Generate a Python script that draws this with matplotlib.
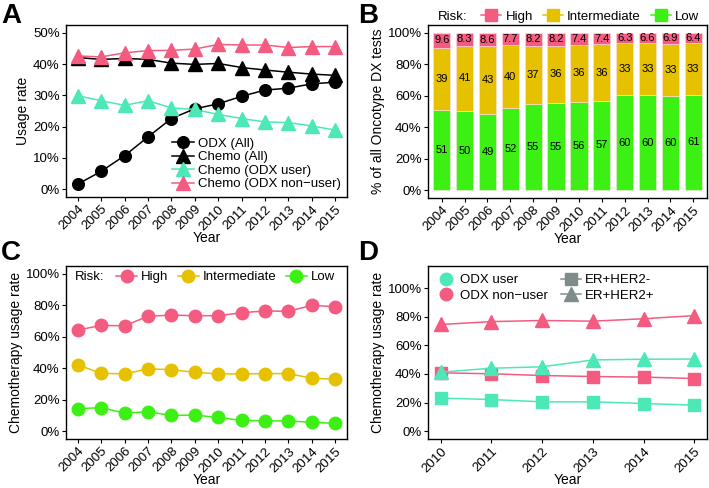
import numpy as np
import matplotlib.pyplot as plt
from matplotlib.lines import Line2D
from matplotlib.ticker import FuncFormatter

plt.rcParams['font.family'] = ['Liberation Sans', 'DejaVu Sans']

PINK = '#F45B80'
GOLD = '#E5C100'
GREEN = '#3CF014'
TEAL = '#4DE8B8'
GRAY = '#7F8C8A'

# ---- data ----
years = list(range(2004, 2016))

# Panel A: usage rate (%)
odx_all = [1.6, 5.7, 10.7, 16.7, 22.6, 25.7, 27.3, 29.7, 31.7, 32.3, 33.7, 34.2]
chemo_all = [42.1, 41.5, 41.8, 41.5, 40.3, 39.9, 40.2, 38.9, 38.1, 37.4, 36.8, 36.4]
chemo_odx_user = [29.9, 28.3, 26.8, 28.3, 26.0, 25.5, 23.9, 22.6, 21.5, 21.3, 20.2, 18.9]
chemo_odx_nonuser = [42.6, 42.3, 43.6, 44.3, 44.4, 44.8, 46.3, 46.1, 46.1, 45.3, 45.6, 45.6]

# Panel B: risk distribution of Oncotype DX tests (%)
risk_low = [51, 50, 49, 52, 55, 55, 56, 57, 60, 60, 60, 61]
risk_int = [39, 41, 43, 40, 37, 36, 36, 36, 33, 33, 33, 33]
risk_high = [9.6, 8.3, 8.6, 7.7, 8.2, 8.2, 7.4, 7.4, 6.3, 6.6, 6.9, 6.4]

# Panel C: chemo usage rate by risk (%)
chemo_high = [64.3, 67.2, 67.0, 73.0, 73.8, 73.4, 73.4, 75.3, 76.4, 76.2, 80.0, 79.1]
chemo_int = [42.1, 36.8, 36.4, 39.6, 39.1, 37.4, 36.4, 36.4, 36.6, 36.6, 33.6, 33.0]
chemo_low = [14.3, 14.9, 11.5, 12.3, 10.0, 10.2, 8.7, 6.8, 6.6, 6.4, 5.7, 4.9]

# Panel D: chemo usage rate by ODX use and subtype (%)
years_d = list(range(2010, 2016))
user_her2neg = [23.1, 22.1, 20.5, 20.5, 19.3, 18.2]
nonuser_her2neg = [40.8, 40.1, 38.9, 38.2, 37.8, 36.8]
user_her2pos = [41.2, 44.0, 45.0, 49.8, 50.3, 50.4]
nonuser_her2pos = [74.6, 76.6, 77.4, 76.9, 78.6, 80.8]

pct = FuncFormatter(lambda v, p: f"{v:.0f}%")
FS_TICK = 9.5
FS_LAB = 10
FS_LEG = 9.5

fig = plt.figure(figsize=(7.09, 4.88), dpi=100)
W, H = 709, 488


def add_ax(l, t, r, b):
    return fig.add_axes([l / W, 1 - b / H, (r - l) / W, (b - t) / H])


def style(ax):
    for s in ax.spines.values():
        s.set_linewidth(1.0)
        s.set_color('black')
    ax.tick_params(direction='out', length=3, width=0.8, labelsize=FS_TICK,
                   colors='black', pad=1.5)
    ax.yaxis.set_major_formatter(pct)
    ax.set_xlabel('Year', fontsize=FS_LAB, labelpad=-1.5)
    for lab in ax.get_xticklabels():
        lab.set_rotation(45)
        lab.set_ha('right')
        lab.set_rotation_mode('anchor')


# ---- Panel A ----
axA = add_ax(66, 25, 347, 197)
axA.plot(years, odx_all, '-o', color='black', lw=1.1, ms=8.4, label='ODX (All)')
axA.plot(years, chemo_all, '-^', color='black', lw=1.1, ms=9.5, label='Chemo (All)')
axA.plot(years, chemo_odx_user, '-^', color=TEAL, lw=1.1, ms=9.5, label='Chemo (ODX user)')
axA.plot(years, chemo_odx_nonuser, '-^', color=PINK, lw=1.1, ms=9.5,
         label='Chemo (ODX non\u2212user)')
axA.set_xlim(2003.5, 2015.5)
axA.set_ylim(-2.5, 52.5)
axA.set_xticks(years)
axA.set_yticks(range(0, 51, 10))
axA.set_ylabel('Usage rate', fontsize=FS_LAB, labelpad=2)
style(axA)
axA.legend(loc='lower right', frameon=False, fontsize=FS_LEG, handlelength=1.6,
           handletextpad=0.3, labelspacing=0.1, borderaxespad=0.1,
           bbox_to_anchor=(1.0, 0.0))

# ---- Panel B ----
axB = add_ax(428, 25, 707, 198)
low = np.array(risk_low, float)
mid = np.array(risk_int, float)
high = np.array(risk_high, float)
tot = low + mid + high
lowp, midp, highp = low / tot * 100, mid / tot * 100, high / tot * 100
bw = 0.75
axB.bar(years, lowp, width=bw, color=GREEN, edgecolor='#FFE0E8', lw=0.4)
axB.bar(years, midp, bottom=lowp, width=bw, color=GOLD, edgecolor='#FFE0E8', lw=0.4)
axB.bar(years, highp, bottom=lowp + midp, width=bw, color=PINK, edgecolor='#FFE0E8', lw=0.4)
for i, y in enumerate(years):
    axB.text(y, lowp[i] / 2, f"{risk_low[i]}", ha='center', va='center', fontsize=8)
    axB.text(y, lowp[i] + midp[i] / 2, f"{risk_int[i]}", ha='center', va='center',
             fontsize=8)
    axB.text(y, lowp[i] + midp[i] + highp[i] / 2, f"{risk_high[i]}", ha='center',
             va='center', fontsize=8)
axB.set_xlim(2003.4, 2015.6)
axB.set_ylim(-5, 105)
axB.set_xticks(years)
axB.set_yticks(range(0, 101, 20))
axB.set_ylabel('% of all Oncotype DX tests', fontsize=FS_LAB, labelpad=2)
style(axB)
fig.text(438 / W, 1 - 17 / H, 'Risk:', fontsize=FS_LEG, va='center', ha='left')
hB = [Line2D([], [], color=c, marker='s', ms=8, lw=1.1) for c in (PINK, GOLD, GREEN)]
fig.legend(hB, ['High', 'Intermediate', 'Low'], ncol=3, frameon=False, fontsize=FS_LEG,
           loc='center left', bbox_to_anchor=(481 / W, 1 - 17 / H),
           handlelength=1.55, handletextpad=0.3, columnspacing=0.75, borderaxespad=0,
           borderpad=0)

# ---- Panel C ----
axC = add_ax(66, 266, 347, 439)
axC.plot(years, chemo_high, '-o', color=PINK, lw=1.1, ms=9, label='High')
axC.plot(years, chemo_int, '-o', color=GOLD, lw=1.1, ms=9, label='Intermediate')
axC.plot(years, chemo_low, '-o', color=GREEN, lw=1.1, ms=9, label='Low')
axC.set_xlim(2003.5, 2015.5)
axC.set_ylim(-5, 105)
axC.set_xticks(years)
axC.set_yticks(range(0, 101, 20))
axC.set_ylabel('Chemotherapy usage rate', fontsize=FS_LAB, labelpad=2)
style(axC)
fig.text(75 / W, 1 - 277 / H, 'Risk:', fontsize=FS_LEG, va='center', ha='left')
fig.legend(*axC.get_legend_handles_labels(), ncol=3, frameon=False, fontsize=FS_LEG,
           loc='center left', bbox_to_anchor=(116 / W, 1 - 277 / H),
           handlelength=1.6, handletextpad=0.3, columnspacing=0.7, borderaxespad=0,
           borderpad=0)

# ---- Panel D ----
axD = add_ax(428, 266, 707, 439)
axD.plot(years_d, user_her2neg, '-s', color=TEAL, lw=1.1, ms=8.2)
axD.plot(years_d, nonuser_her2neg, '-s', color=PINK, lw=1.1, ms=8.2)
axD.plot(years_d, user_her2pos, '-^', color=TEAL, lw=1.1, ms=10)
axD.plot(years_d, nonuser_her2pos, '-^', color=PINK, lw=1.1, ms=10)
axD.set_xlim(2009.75, 2015.25)
axD.set_ylim(-5.5, 115.5)
axD.set_xticks(years_d)
axD.set_yticks(range(0, 101, 20))
axD.set_ylabel('Chemotherapy usage rate', fontsize=FS_LAB, labelpad=2)
style(axD)
hD = [Line2D([], [], color=TEAL, marker='o', ms=9, lw=0),
      Line2D([], [], color=PINK, marker='o', ms=9, lw=0),
      Line2D([], [], color=GRAY, marker='s', ms=8.2, lw=1.1),
      Line2D([], [], color=GRAY, marker='^', ms=10, lw=1.1)]
axD.legend(hD, ['ODX user', 'ODX non\u2212user', 'ER+HER2-', 'ER+HER2+'], ncol=2,
           frameon=False, fontsize=FS_LEG, loc='upper left', bbox_to_anchor=(0.0, 1.0),
           handlelength=1.5, handletextpad=0.3, columnspacing=1.0, labelspacing=0.25,
           borderaxespad=0.2)

# panel letters
for lab, x, y in [('A', 1, 3), ('B', 358, 3), ('C', 1, 240), ('D', 358, 240)]:
    fig.text(x / W, 1 - y / H, lab, fontsize=20, fontweight='bold', va='top', ha='left')

fig.savefig('out.png', dpi=100)
